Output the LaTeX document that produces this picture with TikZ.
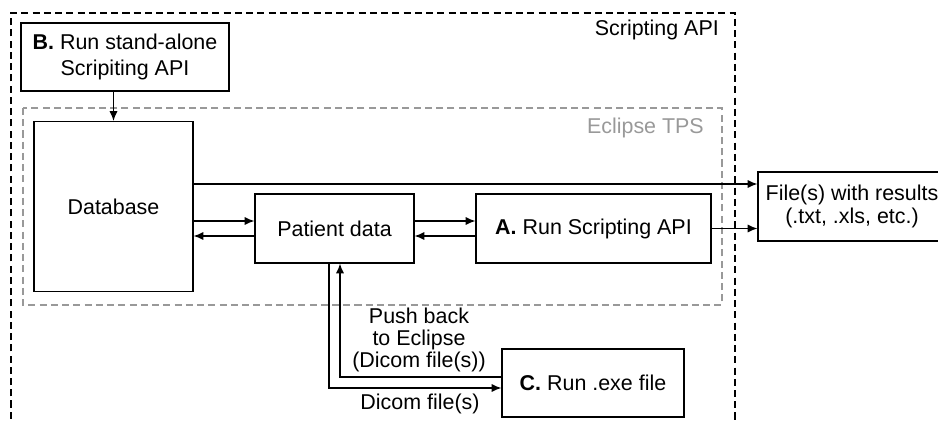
\documentclass[tikz,border=0pt]{standalone}
\usepackage{fontspec}
\setmainfont{Liberation Sans}
\usetikzlibrary{arrows.meta}
\definecolor{tpsgray}{gray}{0.6}
\tikzset{
    blok/.style={draw, line width=0.7pt, align=center, inner sep=0pt},
    pijl/.style={-{Latex[length=5.5pt,width=4.6pt]}, line width=0.7pt},
    kader/.style={line width=0.7pt, dash pattern=on 4pt off 2.4pt}
}
\begin{document}
\begin{tikzpicture}[x=0.02cm, y=-0.02cm, font=\fontsize{12.2}{12.4}\selectfont]
    \useasboundingbox (0,0) rectangle (938,423);

    \draw[kader] (11,430) |- (735,13) -- (735,430);
    \node[anchor=east] (apilbl) at (725,30) {Scripting API};
    \draw[kader, tpsgray] (23,108) rectangle (722,305);
    \node[anchor=east, text=tpsgray] (tpslbl) at (710,128) {Eclipse TPS};

    \node[blok, minimum width=4.16cm, minimum height=1.36cm,
          font=\fontsize{12.2}{15}\selectfont] (standalone) at (125,57)
        {\textbf{B.} Run stand-alone\\Scripiting API};
    \node[blok, minimum width=3.18cm, minimum height=3.4cm] (db) at (113.5,206.5) {Database};
    \node[blok, minimum width=3.18cm, minimum height=1.38cm] (pd) at (334.5,228.5) {Patient data};
    \node[blok, minimum width=4.7cm, minimum height=1.38cm] (runA) at (593.5,228.5) {\textbf{A.} Run Scripting API};
    \node[blok, minimum width=3.76cm, minimum height=1.38cm,
          font=\fontsize{12.2}{13.4}\selectfont] (files) at (852,206.5)
        {File(s) with results\\(.txt, .xls, etc.)};
    \node[blok, minimum width=3.64cm, minimum height=1.36cm] (runC) at (593,383) {\textbf{C.} Run .exe file};

    \draw[pijl] (db.north |- standalone.south) -- (db.north);
    \draw[pijl] ([yshift=0.45cm]db.east) -- ([yshift=0.45cm]files.west);

    \coordinate (pdhi) at ([yshift=0.15cm]pd.west);
    \coordinate (pdlo) at ([yshift=-0.15cm]pd.west);
    \draw[pijl] (db.east |- pdhi) -- (pdhi);
    \draw[pijl] (pdlo) -- (db.east |- pdlo);
    \draw[pijl] ([yshift=0.15cm]pd.east) -- ([yshift=0.15cm]runA.west);
    \draw[pijl] ([yshift=-0.15cm]runA.west) -- ([yshift=-0.15cm]pd.east);
    \draw[pijl] (runA.east) -- (runA.east -| files.west);

    \draw[pijl] ([xshift=-0.11cm]pd.south) |- ([yshift=-0.1cm]runC.west);
    \draw[pijl] ([yshift=0.12cm]runC.west) -| ([xshift=0.11cm]pd.south);

    \node[align=center] (pushlbl) at (419,340) {Push back\\to Eclipse\\(Dicom file(s))};
    \node (dicomlbl) at (420,404) {Dicom file(s)};
\end{tikzpicture}
\end{document}
